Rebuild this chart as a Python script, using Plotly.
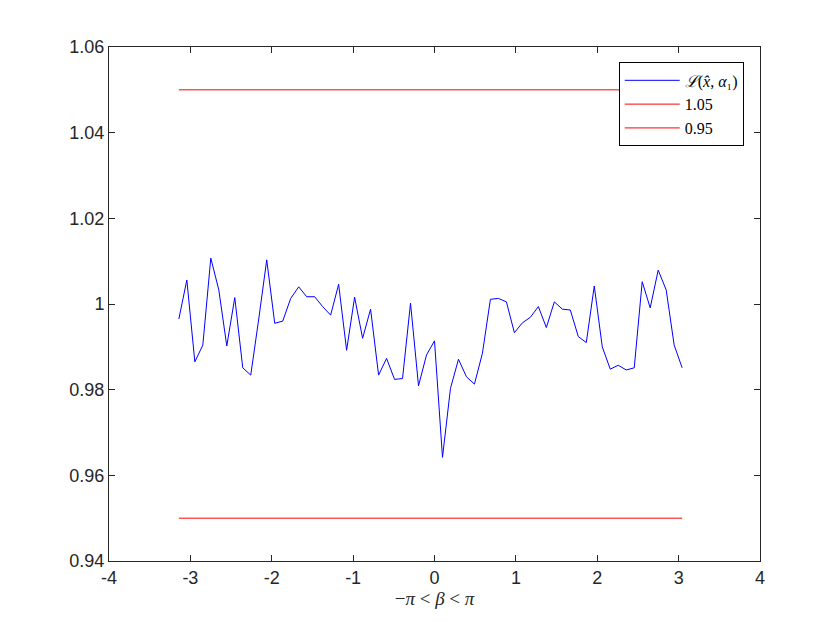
import plotly.graph_objects as go

# Sample grid: 64 points from -pi up to pi - 2*pi/64
n_points = 64
beta = [-3.141592653589793 + 2 * 3.141592653589793 * k / n_points for k in range(n_points)]

# L(x_hat, alpha_1)
loss = [
    0.9965, 1.0056, 0.9865, 0.9904, 1.0107, 1.0033, 0.9902, 1.0015,
    0.9851, 0.9834, 0.9965, 1.0103, 0.9955, 0.9960, 1.0013, 1.0040,
    1.0017, 1.0017, 0.9994, 0.9974, 1.0046, 0.9892, 1.0016, 0.9920,
    0.9988, 0.9834, 0.9873, 0.9824, 0.9826, 1.0002, 0.9809, 0.9881,
    0.9914, 0.9642, 0.9803, 0.9871, 0.9830, 0.9813, 0.9885, 1.0011,
    1.0013, 1.0005, 0.9933, 0.9956, 0.9969, 0.9994, 0.9945, 1.0005,
    0.9988, 0.9986, 0.9924, 0.9910, 1.0042, 0.9900, 0.9848, 0.9857,
    0.9846, 0.9851, 1.0052, 0.9991, 1.0079, 1.0033, 0.9904, 0.9851,
]

upper_bound = 1.05
lower_bound = 0.95

x_ticks = [-4, -3, -2, -1, 0, 1, 2, 3, 4]
x_tick_labels = ["-4", "-3", "-2", "-1", "0", "1", "2", "3", "4"]
y_ticks = [0.94, 0.96, 0.98, 1.00, 1.02, 1.04, 1.06]
y_tick_labels = ["0.94", "0.96", "0.98", "1", "1.02", "1.04", "1.06"]

axis_color = "#262626"

fig = go.Figure()
fig.add_trace(
    go.Scatter(
        x=beta,
        y=loss,
        mode="lines",
        name="<i>ℒ</i>(<i>x̂</i>, <i>α</i>₁)",
        line=dict(color="#0000ff", width=1),
    )
)
fig.add_trace(
    go.Scatter(
        x=[beta[0], beta[-1]],
        y=[upper_bound, upper_bound],
        mode="lines",
        name="1.05",
        line=dict(color="#ff0000", width=1),
    )
)
fig.add_trace(
    go.Scatter(
        x=[beta[0], beta[-1]],
        y=[lower_bound, lower_bound],
        mode="lines",
        name="0.95",
        line=dict(color="#ff0000", width=1),
    )
)

# page body has an 8px margin, so the margins are shifted to keep the
# axes box at the same place as in the reference
fig.update_layout(
    width=840,
    height=630,
    margin=dict(l=101, r=88, t=39, b=77),
    paper_bgcolor="white",
    plot_bgcolor="white",
    font=dict(family="Liberation Sans, Arial", size=18, color=axis_color),
    showlegend=True,
    legend=dict(
        x=0.975,
        y=0.97,
        xanchor="right",
        yanchor="top",
        bgcolor="white",
        bordercolor="black",
        borderwidth=1,
        font=dict(family="Liberation Serif, serif", size=16, color="black"),
        tracegroupgap=0,
        itemwidth=55,
    ),
    xaxis=dict(
        range=[-4, 4],
        tickvals=x_ticks,
        ticktext=x_tick_labels,
        ticks="inside",
        ticklen=6,
        tickcolor=axis_color,
        showline=True,
        linecolor=axis_color,
        linewidth=1,
        mirror="ticks",
        showgrid=False,
        zeroline=False,
        title=dict(
            text="−<i>π</i> < <i>β</i> < <i>π</i>",
            font=dict(family="Liberation Serif, serif", size=19, color=axis_color),
            standoff=4,
        ),
    ),
    yaxis=dict(
        range=[0.94, 1.06],
        tickvals=y_ticks,
        ticktext=y_tick_labels,
        ticks="inside",
        ticklen=6,
        tickcolor=axis_color,
        showline=True,
        linecolor=axis_color,
        linewidth=1,
        mirror="ticks",
        showgrid=False,
        zeroline=False,
    ),
)

fig.write_html("out.html")
